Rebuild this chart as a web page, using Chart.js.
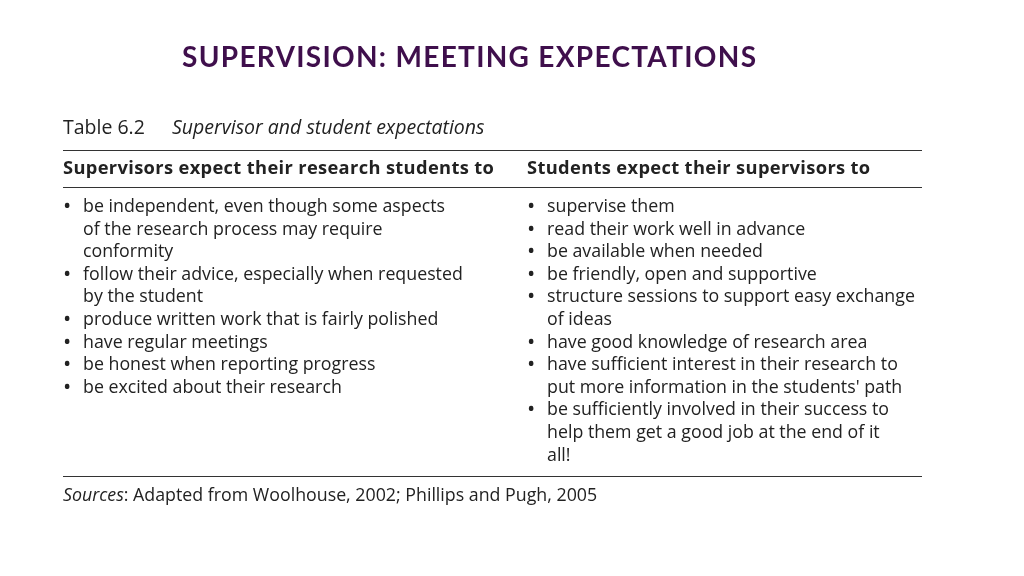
<!DOCTYPE html>
<html>
<head>
<meta charset="utf-8">
<script src="https://cdn.jsdelivr.net/npm/chart.js@4"></script>
<style>
  body { margin: 0; width: 1024px; height: 576px; background: #fff; position: relative; overflow: hidden; font-family: "Open Sans", sans-serif; }
  #bg { position: absolute; left: 0; top: 0; }
  .t { position: absolute; white-space: nowrap; color: #222; font-size: 17.8px; line-height: 22px; }
  .title { position: absolute; left: 182px; top: 39px; font-family: "Lato", sans-serif; font-weight: 700; font-size: 28px; color: #3f0f4c; letter-spacing: 1.3px; }
  .rule { position: absolute; left: 63px; width: 859px; border-top: 1.5px solid #333; }
  .hd { font-weight: 700; font-size: 18.3px; letter-spacing: 0.35px; }
  .bl { font-size: 22px; line-height: 21px; }
  .cap { font-size: 19.5px; }
</style>
</head>
<body>
<canvas id="bg" width="1024" height="576"></canvas>
<div class="title">SUPERVISION: MEETING EXPECTATIONS</div>
<div id="table"></div>
<script>
const caption = ['Table 6.2', 'Supervisor and student expectations'];
const headers = ['Supervisors expect their research students to', 'Students expect their supervisors to'];
// each line: [bullet?, text]
const supervisorLines = [
  [true, 'be independent, even though some aspects'],
  [false, 'of the research process may require'],
  [false, 'conformity'],
  [true, 'follow their advice, especially when requested'],
  [false, 'by the student'],
  [true, 'produce written work that is fairly polished'],
  [true, 'have regular meetings'],
  [true, 'be honest when reporting progress'],
  [true, 'be excited about their research']
];
const studentLines = [
  [true, 'supervise them'],
  [true, 'read their work well in advance'],
  [true, 'be available when needed'],
  [true, 'be friendly, open and supportive'],
  [true, 'structure sessions to support easy exchange'],
  [false, 'of ideas'],
  [true, 'have good knowledge of research area'],
  [true, 'have sufficient interest in their research to'],
  [false, "put more information in the students' path"],
  [true, 'be sufficiently involved in their success to'],
  [false, 'help them get a good job at the end of it'],
  [false, 'all!']
];
const sources = ['Sources', ': Adapted from Woolhouse, 2002; Phillips and Pugh, 2005'];

// blank chart canvas as the drawing surface
new Chart(document.getElementById('bg'), {
  type: 'scatter',
  data: { datasets: [] },
  options: { responsive: false, animation: false, plugins: { legend: { display: false }, tooltip: { enabled: false } },
    scales: { x: { display: false }, y: { display: false } } }
});

let html = '';
const add = function (x, y, txt, cls, style) {
  html += `<div class="t ${cls || ''}" style="left:${x}px;top:${y}px;${style || ''}">${txt}</div>`;
};
add(63, 116, caption[0], 'cap');
add(172, 116, caption[1], 'cap', 'font-style:italic');
html += '<div class="rule" style="top:150px"></div>';
add(63, 156, headers[0], 'hd');
add(527, 156, headers[1], 'hd');
html += '<div class="rule" style="top:187px"></div>';
const rowH = 22.6;
supervisorLines.forEach(function (l, i) {
  const y = 194 + i * rowH;
  if (l[0]) add(63, y, '•', 'bl');
  add(83, y, l[1], '');
});
studentLines.forEach(function (l, i) {
  const y = 194 + i * rowH;
  if (l[0]) add(527, y, '•', 'bl');
  add(547, y, l[1], '');
});
html += '<div class="rule" style="top:476px"></div>';
html += `<div class="t" style="left:63px;top:483px"><i>${sources[0]}</i>${sources[1]}</div>`;
document.getElementById('table').innerHTML = html;
</script>
</body>
</html>
